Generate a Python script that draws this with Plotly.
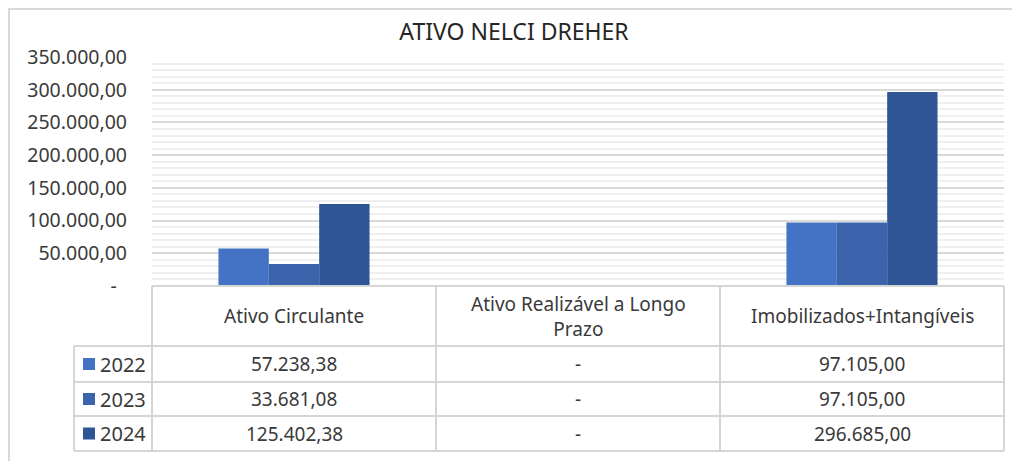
import plotly.graph_objects as go

# ---- data ----
categories = ["Ativo Circulante", "Ativo Realizável a Longo Prazo", "Imobilizados+Intangíveis"]
header_labels = ["Ativo Circulante", "Ativo Realizável a Longo<br>Prazo", "Imobilizados+Intangíveis"]
years = ["2022", "2023", "2024"]
values_2022 = [57238.38, 0, 97105.00]
values_2023 = [33681.08, 0, 97105.00]
values_2024 = [125402.38, 0, 296685.00]
tick_values = [0, 50000, 100000, 150000, 200000, 250000, 300000, 350000]
tick_labels = ["-\u00a0\u00a0", "50.000,00", "100.000,00", "150.000,00", "200.000,00",
               "250.000,00", "300.000,00", "350.000,00"]
title_text = "ATIVO NELCI DREHER"

series = [values_2022, values_2023, values_2024]
colors = ["#4472c4", "#3b64ad", "#2f5597"]

OFF = 8                      # page body margin
W, H = 1020 - OFF, 461 - OFF
L, R, T, B = 152, 1004, 57, 286   # plot area in reference pixels
FONT = "Noto Sans"
TXT = "#3a3a3a"
LINE = "#d6d6d6"


def px(X):
    return (X - L) / (R - L)


def py(Y):
    return (B - Y) / (B - T)


def fmt(v):
    if v == 0:
        return "-"
    s = f"{v:,.2f}"
    return s.replace(",", "X").replace(".", ",").replace("X", ".")


fig = go.Figure()
for yr, vals, c in zip(years, series, colors):
    fig.add_trace(go.Bar(x=categories, y=vals, name=yr, marker=dict(color=c, line=dict(width=0)),
                         showlegend=False))

shapes = []
annotations = []

# chart outer border (top + left)
shapes.append(dict(type="line", xref="paper", yref="paper", x0=px(OFF), x1=px(1030), y0=py(OFF + 1),
                   y1=py(OFF + 1), line=dict(color="#d9d9d9", width=2)))
shapes.append(dict(type="line", xref="paper", yref="paper", x0=px(OFF + 1), x1=px(OFF + 1), y0=py(OFF),
                   y1=py(470), line=dict(color="#d9d9d9", width=2)))

# table lines
rows_y = [286, 346, 382, 416, 451]
leg_x = 74
shapes.append(dict(type="line", xref="paper", yref="paper", x0=0, x1=1, y0=py(rows_y[0]), y1=py(rows_y[0]),
                   line=dict(color=LINE, width=2)))
for Y in rows_y[1:]:
    shapes.append(dict(type="line", xref="paper", yref="paper", x0=px(leg_x), x1=1, y0=py(Y), y1=py(Y),
                       line=dict(color=LINE, width=2)))
for k in range(len(categories) + 1):
    xx = k / len(categories)
    shapes.append(dict(type="line", xref="paper", yref="paper", x0=xx, x1=xx, y0=py(rows_y[0]),
                       y1=py(rows_y[-1]), line=dict(color=LINE, width=2)))
shapes.append(dict(type="line", xref="paper", yref="paper", x0=px(leg_x), x1=px(leg_x), y0=py(rows_y[1]),
                   y1=py(rows_y[-1]), line=dict(color=LINE, width=2)))

# header text
for cat, lab in zip(categories, header_labels):
    annotations.append(dict(x=cat, xref="x", y=py((rows_y[0] + rows_y[1]) / 2), yref="paper",
                            text=lab, showarrow=False, xanchor="center", yanchor="middle",
                            font=dict(family=FONT, size=19, color=TXT)))

# rows
for i, (yr, vals, c) in enumerate(zip(years, series, colors)):
    yc = (rows_y[i + 1] + rows_y[i + 2]) / 2
    shapes.append(dict(type="rect", xref="paper", yref="paper", x0=px(83), x1=px(95), y0=py(yc - 6),
                       y1=py(yc + 6), fillcolor=c, line=dict(width=0)))
    annotations.append(dict(x=px(98), xref="paper", y=py(yc), yref="paper", text=yr, showarrow=False,
                            xanchor="left", yanchor="middle", font=dict(family=FONT, size=20, color=TXT)))
    for cat, v in zip(categories, vals):
        annotations.append(dict(x=cat, xref="x", y=py(yc), yref="paper", text=fmt(v), showarrow=False,
                                xanchor="center", yanchor="middle",
                                font=dict(family=FONT, size=19, color=TXT)))

fig.update_layout(
    width=W, height=H,
    margin=dict(l=L - OFF, r=1020 - R, t=T - OFF, b=461 - B, pad=0),
    paper_bgcolor="white", plot_bgcolor="white",
    barmode="group", bargap=0.468, bargroupgap=0,
    title=dict(text=title_text, x=0.5, xanchor="center", y=1 - (32 - OFF) / H, yanchor="middle",
               yref="container", font=dict(family=FONT, size=23, color="#262626")),
    xaxis=dict(showticklabels=False, showgrid=False, zeroline=False, showline=False, ticks=""),
    yaxis=dict(range=[0, 350000], tickvals=tick_values, ticktext=tick_labels, showgrid=True,
               gridcolor="#d9d9d9", gridwidth=2, zeroline=False, showline=False, ticks="",
               ticklabelstandoff=24, tickfont=dict(family=FONT, size=19.5, color=TXT),
               minor=dict(dtick=10000, tick0=0, showgrid=True, gridcolor="#efefef", gridwidth=2)),
    shapes=shapes, annotations=annotations,
)

fig.write_html("out.html")
